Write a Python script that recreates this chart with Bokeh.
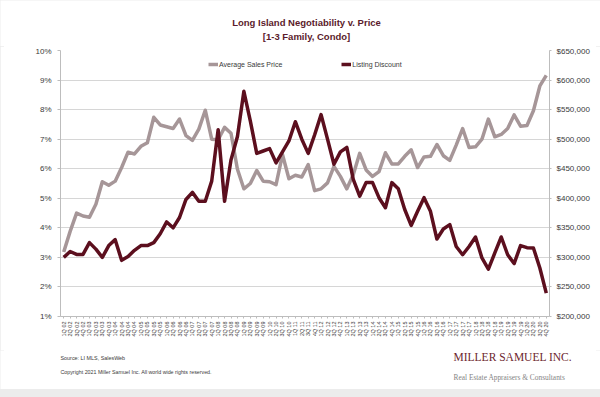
from bokeh.plotting import figure
from bokeh.layouts import column
from bokeh.models import (FactorRange, Range1d, LinearAxis, FixedTicker, NumeralTickFormatter,
                          PrintfTickFormatter, Legend, LegendItem, Label, Spacer)
from bokeh.embed import file_html
from bokeh.resources import INLINE
import math

years = ["02", "03", "04", "05", "06", "07", "08", "09", "10", "11",
         "12", "13", "14", "15", "16", "17", "18", "19", "20"]
quarter_names = ["1Q", "2Q", "3Q", "4Q"]
quarters = [f"{q} {y}" for y in years for q in quarter_names]

# Listing discount, percent (left axis)
discount = [3.0, 3.2, 3.1, 3.1, 3.5, 3.28, 3.0, 3.4, 3.6, 2.9,
            3.03, 3.24, 3.4, 3.4, 3.5, 3.8, 4.2, 4.0, 4.35, 4.96,
            5.2, 4.9, 4.9, 5.58, 7.32, 4.9, 6.3, 7.09, 8.62, 7.62,
            6.52, 6.6, 6.68, 6.2, 6.57, 6.94, 7.59, 7.0, 6.52, 7.15,
            7.83, 7.0, 6.15, 6.57, 6.72, 5.64, 5.07, 5.53, 5.53, 5.02,
            4.68, 5.53, 5.32, 4.62, 4.08, 4.56, 5.02, 4.56, 3.62, 3.96,
            4.11, 3.37, 3.09, 3.37, 3.69, 2.98, 2.6, 3.15, 3.69, 3.09,
            2.79, 3.4, 3.33, 3.32, 2.64, 1.79]

# Average sales price, dollars (right axis)
price = [309000, 344000, 375000, 370000, 368000, 390000, 428000, 422000, 429000, 452000,
         478000, 475000, 488000, 494000, 537000, 524000, 521000, 518000, 534000, 506000,
         498000, 517000, 549000, 500000, 499000, 520000, 510000, 449000, 416000, 425000,
         447000, 429000, 428000, 423000, 474000, 433000, 439000, 436000, 457000, 413000,
         416000, 426000, 454000, 437000, 416000, 440000, 476000, 448000, 437000, 445000,
         477000, 458000, 458000, 471000, 482000, 452000, 470000, 471000, 491000, 472000,
         464000, 490000, 518000, 486000, 487000, 500000, 534000, 504000, 508000, 518000,
         541000, 522000, 523000, 548000, 590000, 608000]

left_ticks = [1, 2, 3, 4, 5, 6, 7, 8, 9, 10]
right_ticks = [200000, 250000, 300000, 350000, 400000, 450000, 500000, 550000, 600000, 650000]

FONT = "Liberation Sans"
SERIF = "Liberation Serif"
DISC_COLOR = "#5c0f1e"
PRICE_COLOR = "#a69698"
AXIS_COLOR = "#bdbdbd"
TEXT_COLOR = "#3a3a3a"
TITLE_COLOR = "#5b1b2b"
FRAME_GRAY = "#ececec"

W = 600


def blank(height, y0, y1):
    f = figure(width=W, height=height, x_range=Range1d(0, W), y_range=Range1d(y1, y0),
               x_axis_location=None, y_axis_location=None,
               output_backend="svg", toolbar_location=None,
               min_border_left=0, min_border_right=0, min_border_top=0, min_border_bottom=0)
    f.outline_line_color = None
    f.grid.visible = False
    f.background_fill_color = "white"
    f.border_fill_color = "white"
    try:
        f.frame_align = False
    except AttributeError:
        pass
    return f


# ---------- header ----------
head = blank(46, 0, 46)
for txt, yy in [("Long Island Negotiability v. Price", 22), ("[1-3 Family, Condo]", 36)]:
    head.add_layout(Label(x=306, y=yy, text=txt, text_align="center", text_baseline="middle",
                          text_font=FONT, text_font_style="bold", text_font_size="9.5px",
                          text_color=TITLE_COLOR))

# ---------- main chart ----------
p = figure(width=W, height=304,
           x_range=FactorRange(factors=quarters, range_padding=0),
           y_range=Range1d(1, 10),
           output_backend="svg", toolbar_location=None,
           min_border_left=60, min_border_right=51, min_border_top=4, min_border_bottom=34)
p.extra_y_ranges = {"price": Range1d(200000, 650000)}
p.outline_line_color = None
p.background_fill_color = "white"
p.border_fill_color = "white"

p.xgrid.visible = False
p.ygrid.ticker = FixedTicker(ticks=left_ticks)
p.ygrid.grid_line_color = "#d6d6d6"
p.ygrid.grid_line_width = 1

la = p.yaxis[0]
la.ticker = FixedTicker(ticks=left_ticks)
la.formatter = PrintfTickFormatter(format="%d%%")
la.axis_line_color = AXIS_COLOR
la.major_tick_line_color = AXIS_COLOR
la.major_tick_out = 3
la.major_tick_in = 0
la.minor_tick_line_color = None
la.major_label_text_font = FONT
la.major_label_text_font_size = "8px"
la.major_label_text_color = TEXT_COLOR
la.major_label_standoff = 6

ra = LinearAxis(y_range_name="price", ticker=FixedTicker(ticks=right_ticks),
                formatter=NumeralTickFormatter(format="$0,0"))
ra.axis_line_color = AXIS_COLOR
ra.major_tick_line_color = AXIS_COLOR
ra.major_tick_out = 2
ra.major_tick_in = 0
ra.minor_tick_line_color = None
ra.major_label_text_font = FONT
ra.major_label_text_font_size = "8px"
ra.major_label_text_color = TEXT_COLOR
ra.major_label_standoff = 5
p.add_layout(ra, "right")

xa = p.xaxis[0]
xa.axis_line_color = AXIS_COLOR
xa.major_tick_line_color = AXIS_COLOR
xa.major_tick_out = 2
xa.major_tick_in = 0
xa.major_label_orientation = math.pi / 2
xa.major_label_text_font = FONT
xa.major_label_text_font_size = "5.5px"
xa.major_label_text_color = TEXT_COLOR
xa.major_label_standoff = 3

r_price = p.line(quarters, price, y_range_name="price", line_color=PRICE_COLOR,
                 line_width=3.5, line_join="round")
r_disc = p.line(quarters, discount, line_color=DISC_COLOR, line_width=3.5, line_join="round")

legend = Legend(items=[LegendItem(label="Average Sales Price", renderers=[r_price]),
                       LegendItem(label="Listing Discount", renderers=[r_disc])],
                orientation="horizontal", location=(148, 248),
                padding=0, margin=0, spacing=59, label_standoff=1,
                glyph_width=10, glyph_height=8, label_height=8,
                label_text_font=FONT, label_text_font_size="7px",
                label_text_color=TEXT_COLOR,
                border_line_color=None, background_fill_alpha=0)
p.add_layout(legend, "center")

# ---------- footer ----------
foot = blank(39, 350, 389)
foot.add_layout(Label(x=60, y=357, text="Source:  LI MLS, SalesWeb", text_baseline="middle",
                      text_font=FONT, text_font_size="5.4px", text_color=TEXT_COLOR))
foot.add_layout(Label(x=60, y=371,
                      text="Copyright 2021 Miller Samuel Inc.  All world wide rights reserved.",
                      text_baseline="middle", text_font=FONT, text_font_size="5.3px",
                      text_color=TEXT_COLOR))
foot.add_layout(Label(x=453, y=356, text="MILLER SAMUEL INC.", text_baseline="middle",
                      text_font=SERIF, text_font_size="11.5px", text_color="#6d1f2e"))
foot.add_layout(Label(x=453, y=377, text="Real Estate Appraisers & Consultants",
                      text_baseline="middle", text_font=SERIF,
                      text_font_size="7.4px", text_color="#858585"))

bottom_strip = Spacer(width=W, height=8, styles={"background-color": FRAME_GRAY})

layout = column(head, p, foot, bottom_strip, spacing=0,
                styles={"outline": f"4px solid {FRAME_GRAY}", "outline-offset": "-4px"})
open("out.html", "w").write(file_html(layout, INLINE))
